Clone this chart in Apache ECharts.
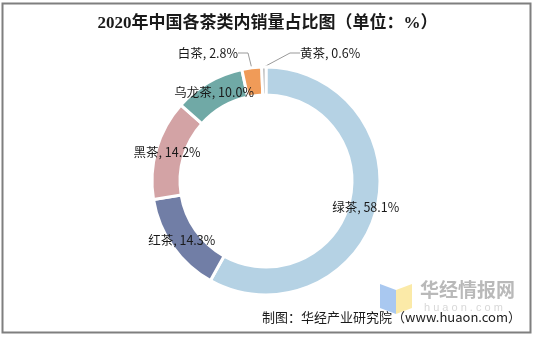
<!DOCTYPE html>
<html><head><meta charset="utf-8">
<script src="https://cdn.jsdelivr.net/npm/echarts@6/dist/echarts.min.js"></script>
<style>html,body{margin:0;padding:0;background:#fff}#c{width:535px;height:337px}</style>
</head><body><div id="c"></div>
<script>
const categories = ['绿茶','红茶','黑茶','乌龙茶','白茶','黄茶'];
const values = [58.1, 14.3, 14.2, 10.0, 2.8, 0.6];
const colors = ['#b5d2e4','#717ea6','#d3a3a5','#70a9a6','#f09b58','#a9a9a9'];
const outsideNames = ['白茶','黄茶'];
const titleText = '2020年中国各茶类内销量占比图（单位：%）';
const sourceText = '制图：华经产业研究院（www.huaon.com）';

const chart = echarts.init(document.getElementById('c'));
const cjk = '"Microsoft YaHei","Noto Sans CJK SC",sans-serif';
const data = categories.map((n,i)=>{
  const d = {name:n, value:values[i], itemStyle:{color:colors[i]}};
  if (outsideNames.includes(n)) {
    d.label = {position:'outside'};
    d.labelLine = {show:true};
  }
  return d;
});
chart.setOption({
  animation:false,
  title:{text:titleText,left:'center',top:10,
    textStyle:{fontFamily:'"Liberation Serif","Noto Sans CJK SC",serif',fontWeight:'bold',fontSize:17,color:'#1a1a1a'}},
  graphic:[
    {type:'rect',shape:{x:2.5,y:3.5,width:528,height:329},style:{fill:'none',stroke:'#7f7f7f',lineWidth:2},z:-1},
    {type:'polygon',shape:{points:[[380,284],[396,290],[396,314],[380,308]]},style:{fill:'#a9c8f0'},z:0},
    {type:'polygon',shape:{points:[[396,290],[412,284],[412,308],[396,314]]},style:{fill:'#fbeaa8'},z:0},
    {type:'text',left:420,top:280,style:{text:'华经情报网',fill:'#b9b9b9',font:'bold 19px '+cjk},z:0},
    {type:'text',left:424,top:302,style:{text:'h u a o n . c o m',fill:'#d8d8d8',font:'11px Arial, sans-serif'},z:0},
    {type:'text',right:14,top:311,style:{text:sourceText,fill:'#1a1a1a',font:'13px '+cjk},z:5}
  ],
  series:[{
    type:'pie',
    center:[266,181],
    radius:[86,114],
    startAngle:90,
    clockwise:true,
    avoidLabelOverlap:false,
    itemStyle:{borderColor:'#fff',borderWidth:3},
    label:{show:true,position:'inside',formatter:p=>p.name+', '+p.value.toFixed(1)+'%',color:'#1a1a1a',fontSize:12.5,fontFamily:cjk},
    labelLine:{show:false,length:12,length2:10,lineStyle:{color:'#999',width:1}},
    labelLayout:function(p){
      const n = categories[p.dataIndex];
      if (n==='白茶') return {x:238,y:53,align:'right',verticalAlign:'middle',hideOverlap:false};
      if (n==='黄茶') return {x:300,y:53,align:'left',verticalAlign:'middle',hideOverlap:false};
      return {hideOverlap:false};
    },
    data:data
  }]
});
</script></body></html>
